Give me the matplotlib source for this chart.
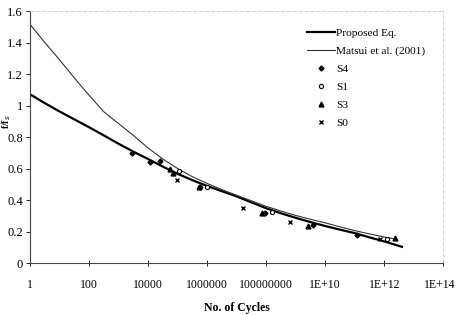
import numpy as np
import matplotlib
matplotlib.use("Agg")
import matplotlib.pyplot as plt
from matplotlib.transforms import ScaledTranslation

plt.rcParams['font.family'] = ['Liberation Serif', 'DejaVu Serif']

# curves (log10 of cycles, ratio)
prop_logn = [0, 0.5, 1, 1.5, 2, 2.5, 3, 3.5, 4, 4.5, 5, 5.5, 6, 6.5, 7, 7.5, 8, 8.5, 9, 9.5, 10, 10.5, 11, 11.5, 12, 12.6]
prop_val = [1.071, 1.015, 0.962, 0.912, 0.862, 0.81, 0.757, 0.707, 0.66, 0.612, 0.566, 0.526, 0.489, 0.456, 0.423, 0.385, 0.348, 0.316, 0.287, 0.26, 0.235, 0.212, 0.19, 0.163, 0.137, 0.103]
matsui_logn = [0, 0.5, 1, 1.5, 2, 2.5, 3, 3.5, 4, 4.5, 5, 5.5, 6, 6.5, 7, 7.5, 8, 8.5, 9, 9.5, 10, 10.5, 11, 11.5, 12, 12.3]
matsui_val = [1.515, 1.40, 1.29, 1.175, 1.065, 0.96, 0.885, 0.81, 0.73, 0.66, 0.60, 0.548, 0.505, 0.466, 0.43, 0.395, 0.36, 0.33, 0.302, 0.278, 0.255, 0.23, 0.206, 0.185, 0.165, 0.155]

# test data
s4_logn = [3.45, 4.07, 4.41, 5.75, 7.97, 9.6, 11.07]
s4_val = [0.70, 0.643, 0.65, 0.485, 0.32, 0.241, 0.178]
s1_logn = [5.06, 6.0, 8.19, 12.09]
s1_val = [0.586, 0.485, 0.326, 0.15]
s3_logn = [4.75, 4.84, 5.71, 7.85, 9.43, 12.37]
s3_val = [0.595, 0.57, 0.485, 0.315, 0.235, 0.156]
s0_logn = [4.99, 7.23, 8.81, 11.86]
s0_val = [0.527, 0.347, 0.262, 0.15]

xtick_labels = ['1', '100', '10000', '1000000', '100000000', '1E+10', '1E+12', '1E+14']

fig = plt.figure(figsize=(4.56, 3.15), dpi=100)
ax = fig.add_axes([0.066, 0.165, 0.906, 0.80])

ax.plot(10.0 ** np.array(prop_logn), prop_val, color='black', lw=1.6, label='Proposed Eq.')
ax.plot(10.0 ** np.array(matsui_logn), matsui_val, color='#333333', lw=0.8, label='Matsui et al. (2001)')
ax.plot(10.0 ** np.array(s4_logn), s4_val, 'D', ms=2.5, color='black', ls='none', label='S4')
ax.plot(10.0 ** np.array(s1_logn), s1_val, 'o', ms=3, mfc='white', mec='black', mew=0.8, ls='none', label='S1')
ax.plot(10.0 ** np.array(s3_logn), s3_val, '^', ms=3.5, color='black', ls='none', label='S3')
ax.plot(10.0 ** np.array(s0_logn), s0_val, 'x', ms=3.5, color='black', mew=1, ls='none', label='S0')

ax.set_xscale('log')
ax.set_xlim(1, 1e14)
ax.set_ylim(0, 1.6)
ax.set_xticks([10.0 ** k for k in range(0, 15, 2)])
ax.set_xticklabels(xtick_labels, fontsize=8.5)
ax.minorticks_off()
ax.set_yticks([0, 0.2, 0.4, 0.6, 0.8, 1.0, 1.2, 1.4, 1.6])
ax.set_yticklabels(['0', '0.2', '0.4', '0.6', '0.8', '1', '1.2', '1.4', '1.6'], fontsize=9)
ax.tick_params(axis='x', direction='inout', length=4, width=0.6, pad=9.5)
ax.tick_params(axis='y', direction='out', length=3, width=0.6, pad=2)

# last label sits at the right edge in the original
last = ax.get_xticklabels()[-1]
last.set_transform(last.get_transform() + ScaledTranslation(-4 / 100, 0, fig.dpi_scale_trans))

for side in ['top', 'right']:
    ax.spines[side].set_color('#cccccc')
    ax.spines[side].set_linestyle((0, (4, 3)))
    ax.spines[side].set_linewidth(0.6)
for side in ['left', 'bottom']:
    ax.spines[side].set_color('#444444')
    ax.spines[side].set_linewidth(0.8)

ax.set_xlabel('No. of Cycles', fontsize=8.5, fontweight='bold', labelpad=8)
fig.text(0.0, 0.615, 'f/f$_s$', rotation=90, fontsize=7, fontweight='bold', va='center', ha='left')

ax.legend(loc='upper right', bbox_to_anchor=(0.975, 0.965), frameon=False, fontsize=8.2,
          handlelength=2.4, handletextpad=0.1, labelspacing=0.7, borderaxespad=0.3)

fig.savefig('out.png', dpi=100)
